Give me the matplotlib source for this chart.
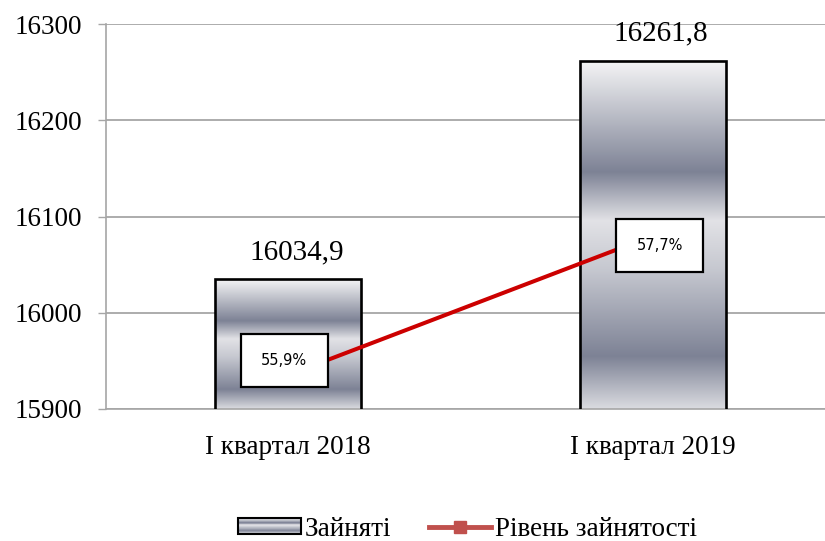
import numpy as np
import matplotlib
matplotlib.use("Agg")
import matplotlib.pyplot as plt
import matplotlib.transforms as mtransforms
from matplotlib.patches import Rectangle
from matplotlib.lines import Line2D
from matplotlib.legend_handler import HandlerBase
from matplotlib.colors import to_rgb

# ---- data ----
categories = ["I квартал 2018", "I квартал 2019"]
employed = [16034.9, 16261.8]
employed_labels = ["16034,9", "16261,8"]
rate = [55.9, 57.7]
rate_labels = ["55,9%", "57,7%"]
yticks = [15900, 16000, 16100, 16200, 16300]
series_names = ["Зайняті", "Рівень зайнятості"]

SERIF = ["Liberation Serif", "DejaVu Serif"]

# gradient stops (fraction from top, colour)
stops = [(0.0, "#F5F5F6"), (0.32, "#7D8295"), (0.46, "#E2E2E6"),
         (0.60, "#C6C8D0"), (0.85, "#7D8295"), (1.0, "#DADBE0")]


def gradient(n=256):
    pos = np.array([s[0] for s in stops])
    cols = np.array([to_rgb(s[1]) for s in stops])
    t = np.linspace(0, 1, n)
    arr = np.stack([np.interp(t, pos, cols[:, k]) for k in range(3)], axis=1)
    return arr.reshape(n, 1, 3)


fig = plt.figure(figsize=(8.25, 5.41), dpi=100)
W, H = 825, 541
ax = fig.add_axes([106 / W, (H - 409) / H, (835 - 106) / W, 385 / H])

x = np.arange(len(categories))
bw = 0.40
ax.set_xlim(-0.5, 1.5)
ax.set_ylim(15900, 16300)

grad = gradient()
for xi, v in zip(x, employed):
    ax.imshow(grad, extent=(xi - bw / 2, xi + bw / 2, 15900, v), origin="upper",
              aspect="auto", zorder=2, interpolation="bilinear")
ax.bar(x, employed, width=bw, bottom=0, facecolor="none", edgecolor="black",
       linewidth=1.9, zorder=3)
ax.set_xlim(-0.5, 1.5)
ax.set_ylim(15900, 16300)

for xi, v, lbl in zip(x, employed, employed_labels):
    ax.annotate(lbl, xy=(xi, v), xytext=(8, 27), textcoords="offset pixels",
                ha="center", va="center", fontsize=21, family=SERIF, zorder=4)

ax.set_yticks(yticks)
ax.set_yticklabels([str(t) for t in yticks], family=SERIF, fontsize=19.5)
ax.yaxis.grid(True, color="#A6A6A6", linewidth=1.3, zorder=0)
ax.set_axisbelow(True)
ax.tick_params(axis="y", length=6, width=1, color="#A6A6A6", pad=11)
ax.set_xticks(x)
ax.set_xticklabels(categories, family=SERIF, fontsize=19.5)
ax.tick_params(axis="x", length=0, pad=19)
for s in ["top", "right"]:
    ax.spines[s].set_visible(False)
ax.spines["left"].set_color("#A6A6A6")
ax.spines["bottom"].set_color("#A6A6A6")
ax.spines["left"].set_linewidth(1.2)
ax.spines["bottom"].set_linewidth(1.2)

# secondary axis for the rate line
ax2 = ax.twinx()
ax2.set_ylim(55.46, 60.44)
ax2.set_yticks([])
for s in ax2.spines.values():
    s.set_visible(False)
ax2.plot(x, rate, color="#CC0000", linewidth=2.9, zorder=3)

offsets = [(-4, 14), (7, -10)]
for xi, v, lbl, (dx, dy) in zip(x, rate, rate_labels, offsets):
    tr = fig.dpi_scale_trans + mtransforms.ScaledTranslation(xi, v, ax2.transData)
    bwid, bhei = 0.87, 0.53
    ax2.add_patch(Rectangle((dx / 100 - bwid / 2, dy / 100 - bhei / 2), bwid, bhei,
                            transform=tr, facecolor="white", edgecolor="black",
                            linewidth=1.6, zorder=5, clip_on=False))
    ax2.annotate(lbl, xy=(xi, v), xytext=(dx, dy), textcoords="offset pixels",
                 ha="center", va="center", fontsize=10.5, family="DejaVu Sans",
                 zorder=6)


class GradHandler(HandlerBase):
    def create_artists(self, legend, orig_handle, xdescent, ydescent, width,
                       height, fontsize, trans):
        arts = []
        g = gradient(40).reshape(40, 3)
        n = len(g)
        for i, c in enumerate(g):
            y0 = -ydescent + height * (1 - (i + 1) / n)
            arts.append(Rectangle((-xdescent, y0), width, height / n + 0.3,
                                  facecolor=c, edgecolor="none", transform=trans))
        arts.append(Rectangle((-xdescent, -ydescent), width, height,
                              facecolor="none", edgecolor="black", linewidth=1.5,
                              transform=trans))
        return arts


bar_handle = Rectangle((0, 0), 1, 1)
line_handle = Line2D([], [], color="#C0504D", linewidth=3.5, marker="s",
                     markersize=9)
fig.legend([bar_handle, line_handle], series_names,
           handler_map={Rectangle: GradHandler()},
           loc="center", bbox_to_anchor=(0.567, 0.022), ncol=2, frameon=False,
           prop={"family": SERIF, "size": 19.5}, handlelength=2.3,
           handleheight=0.5, handletextpad=0.15, columnspacing=1.4)

fig.savefig("out.png", dpi=100)
